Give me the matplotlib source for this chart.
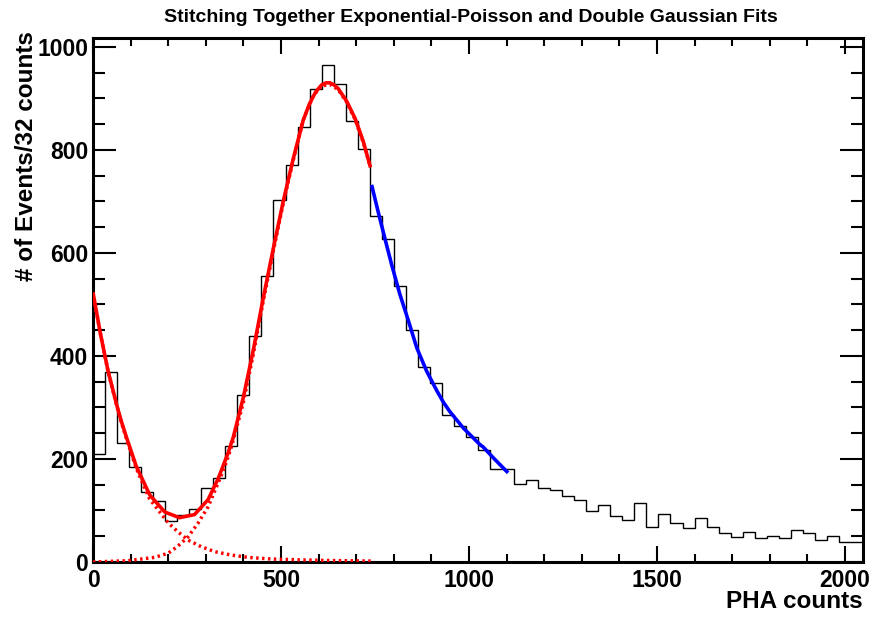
import numpy as np
import matplotlib
matplotlib.use('Agg')
import matplotlib.pyplot as plt
from matplotlib.ticker import MultipleLocator

plt.rcParams['font.family'] = ['Liberation Sans', 'DejaVu Sans']

# ---------------- data ----------------
title = "Stitching Together Exponential-Poisson and Double Gaussian Fits"
x_label = "PHA counts"
y_label = "# of Events/32 counts"

bin_width = 32
n_bins = 64
counts = [210, 368, 231, 184, 136, 118, 80, 92, 102, 144,
          163, 226, 324, 439, 555, 702, 771, 845, 918, 965,
          928, 856, 802, 671, 626, 536, 451, 379, 348, 286,
          263, 242, 218, 180, 180, 152, 160, 144, 139, 128,
          120, 99, 110, 90, 81, 114, 68, 93, 75, 66,
          85, 68, 57, 49, 59, 46, 51, 46, 62, 56,
          43, 51, 38, 38]

# total exponential-Poisson + double Gaussian fit
red_fit_x = [0, 20, 40, 63, 75, 89, 115, 151, 191, 230, 270, 306, 333, 359, 373, 400,
             426, 453, 480, 506, 533, 559, 575, 592, 608, 620, 630, 641, 652, 675,
             697, 719, 738]
red_fit_y = [523, 442, 371, 305, 274, 242, 186, 130, 97, 86, 92, 121, 162, 211, 242, 320,
             410, 513, 610, 700, 784, 857, 888, 912, 926, 930, 930, 926, 919, 894,
             861, 816, 766]

# exponential-Poisson component (dotted)
expo_x = [0, 20, 40, 63, 75, 89, 115, 150, 200, 226, 253, 288, 324, 368, 412, 474, 563, 640, 722, 740]
expo_y = [523, 442, 370, 304, 272, 239, 182, 123, 76, 58.6, 42.5, 29.6, 20, 13.5, 9, 5.8, 3.9, 2.8, 2, 1.9]

# double Gaussian component (dotted)
gaus_x = [0, 93, 164, 200, 226, 253, 279, 306, 332, 350, 368, 400, 426, 453,
          480, 506, 533, 559, 586, 608, 630, 652, 675, 697, 719, 738]
gaus_y = [0, 2.5, 9, 17, 31, 49, 75, 107, 152, 184, 223, 310, 402, 507,
          605, 696, 781, 858, 905, 924, 927, 917, 892, 859, 814, 766]

# tail fit (blue)
tail_x = [741, 758, 776, 794, 816, 839, 861, 887, 914, 932, 949, 985, 1029, 1038, 1065, 1104]
tail_y = [732, 681, 629, 578, 520, 468, 416, 371, 333, 310, 292, 260, 228, 223, 202, 173]

x_max = 2048
y_max = 1017

# ---------------- figure ----------------
W, H = 873, 618
fig = plt.figure(figsize=(W / 100, H / 100), dpi=100)
left, right, bottom, top = 93, 863, 562, 38
ax = fig.add_axes([left / W, 1 - bottom / H, (right - left) / W, (bottom - top) / H])

edges = np.arange(n_bins + 1) * bin_width
ax.stairs(counts, edges, color='black', lw=1.0, baseline=0, zorder=2)

ax.plot(expo_x, expo_y, color='red', lw=2.5, linestyle=(0, (0.7, 1.0)), zorder=3)
ax.plot(gaus_x, gaus_y, color='red', lw=2.5, linestyle=(0, (0.7, 1.0)), zorder=3)
ax.plot(red_fit_x, red_fit_y, color='red', lw=2.6, solid_capstyle='butt',
        solid_joinstyle='round', zorder=4)
ax.plot(tail_x, tail_y, color='blue', lw=2.6, solid_capstyle='butt',
        solid_joinstyle='round', zorder=4)

ax.set_xlim(0, x_max)
ax.set_ylim(0, y_max)

ax.xaxis.set_major_locator(MultipleLocator(500))
ax.xaxis.set_minor_locator(MultipleLocator(100))
ax.yaxis.set_major_locator(MultipleLocator(200))
ax.yaxis.set_minor_locator(MultipleLocator(50))

ax.tick_params(which='both', direction='in', top=True, right=True, width=1.5, color='black')
ax.tick_params(axis='x', which='major', length=11.3, pad=5)
ax.tick_params(axis='x', which='minor', length=5.6)
ax.tick_params(axis='y', which='major', length=16.6, pad=3.5)
ax.tick_params(axis='y', which='minor', length=8.3)
for lab in ax.get_xticklabels() + ax.get_yticklabels():
    lab.set_fontsize(16.5)
    lab.set_fontweight('bold')

for s in ax.spines.values():
    s.set_linewidth(2.2)

ax.set_xlabel(x_label, fontsize=17.5, fontweight='bold', loc='right')
ax.xaxis.set_label_coords(1.0, -0.053)
ax.set_ylabel(y_label, fontsize=17.5, fontweight='bold', loc='top')
ax.yaxis.set_label_coords(-0.071, 1.013)

fig.text(471 / W, 1 - 17 / H, title, ha='center', va='center', fontsize=14, fontweight='bold')

fig.savefig('out.png', dpi=100)
